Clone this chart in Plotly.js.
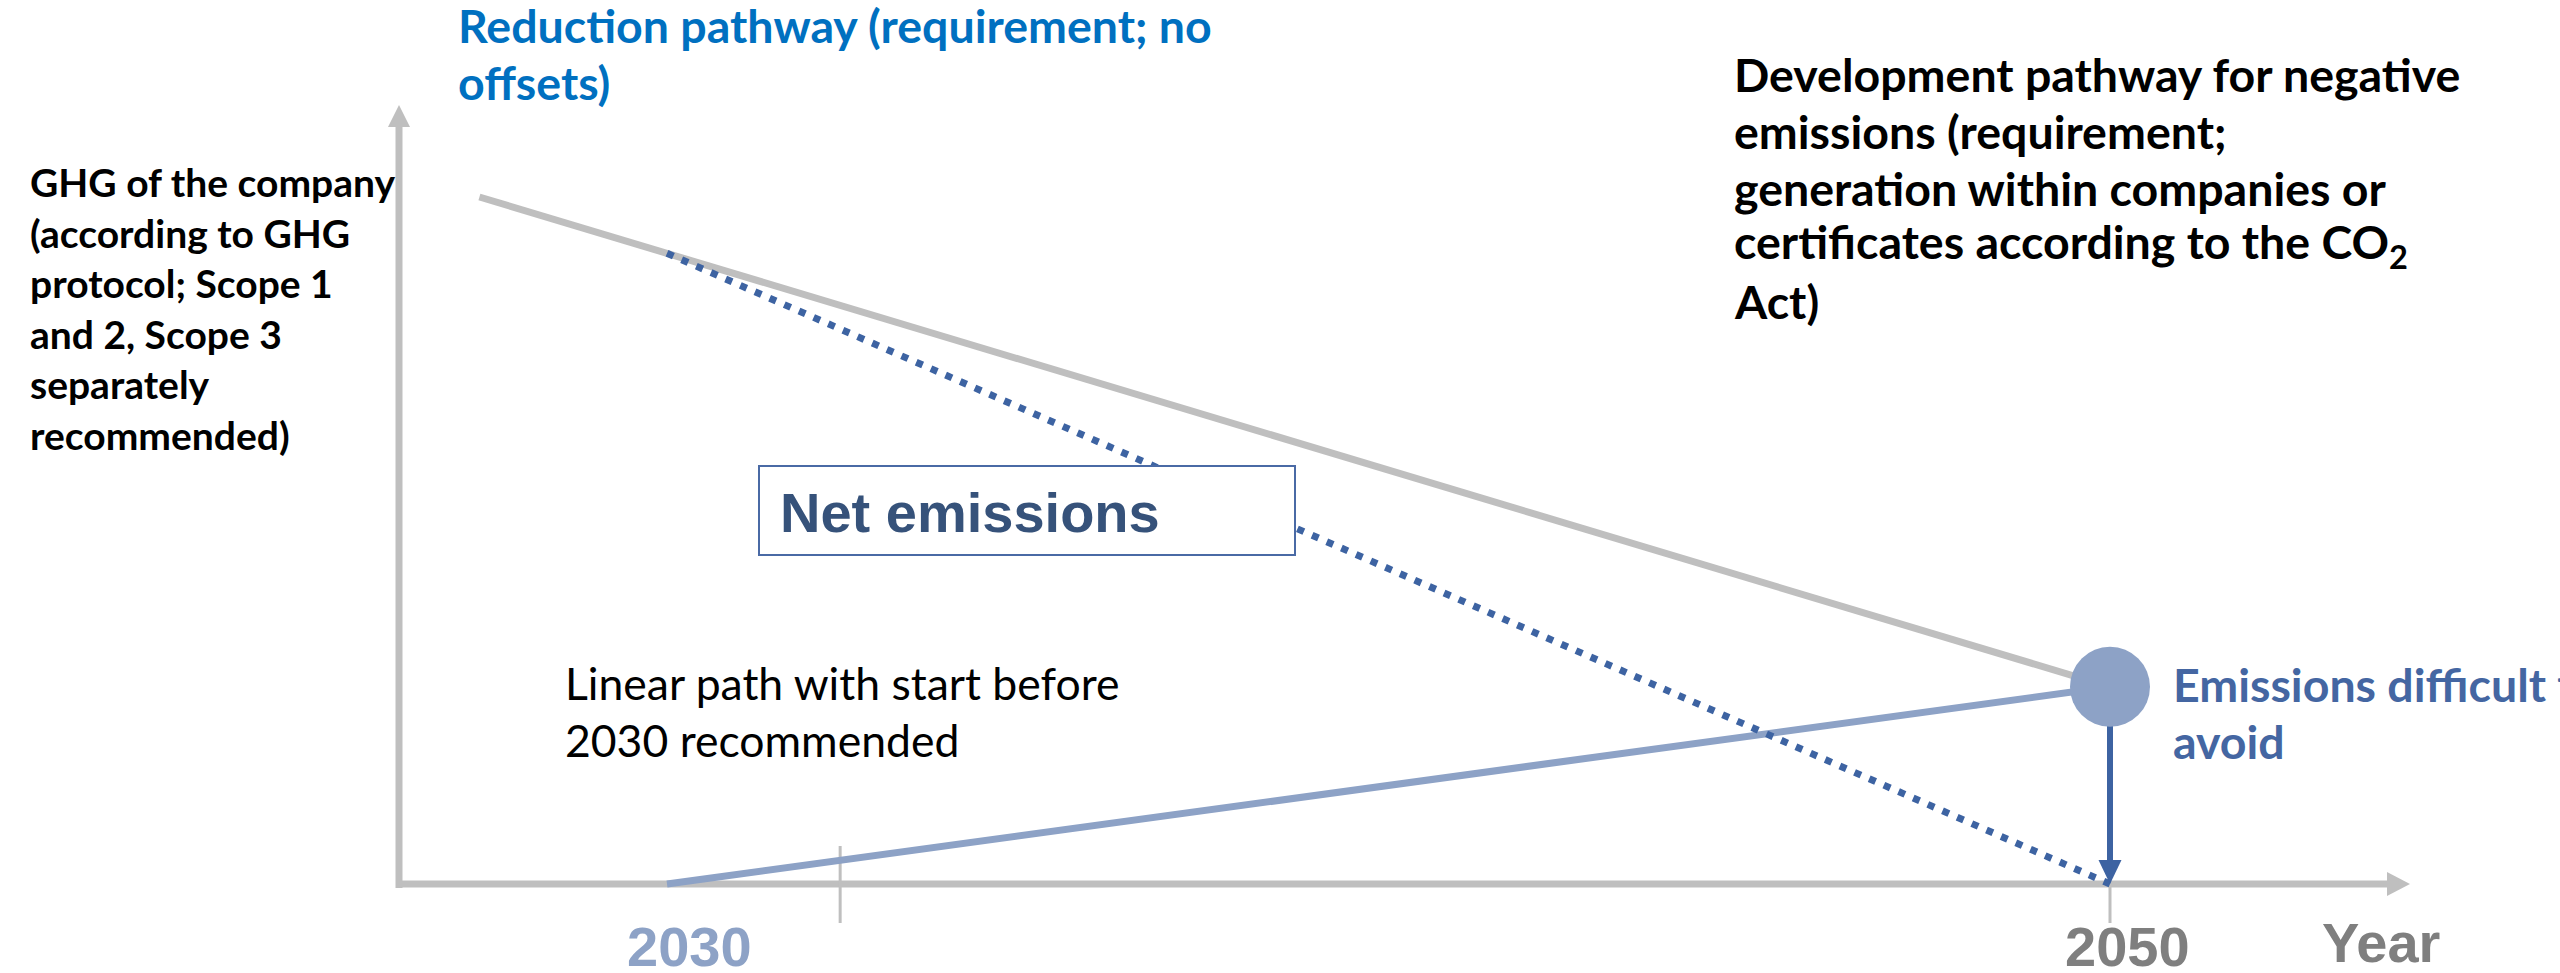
<!DOCTYPE html>
<html>
<head>
<meta charset="utf-8">
<script src="https://cdn.plot.ly/plotly-3.0.1.min.js"></script>
<style>
html,body{margin:0;padding:0;background:#ffffff;overflow:hidden}
#chart{width:2560px;height:973px}
</style>
</head>
<body>
<div id="chart"></div>
<script>
// ---------------- data (schematic values, index: company GHG at path start = 100) ----------------
const reductionYears  = [2027.4, 2050];
const reductionValues = [100, 28.7];
const netYears        = [2030, 2050];
const netValues       = [91.8, 0];
const negativeYears   = [2030, 2050];
const negativeValues  = [0, 28.7];
const residualYears   = [2050];
const residualValues  = [28.7];
const tickYears       = [2032.4, 2050];
const tickLabels      = ['2030', '2050'];
const tickLabelYears  = [2030, 2050];
const axisTitle       = 'Year';

const yLabelLines    = ['GHG of the company', '(according to GHG', 'protocol; Scope 1', 'and 2, Scope 3', 'separately', 'recommended)'];
const reductionLines = ['Reduction pathway (requirement; no', 'offsets)'];
const negativeLines  = ['Development pathway for negative', 'emissions (requirement;', 'generation within companies or', 'certificates according to the CO<sub>2</sub>', 'Act)'];
const linearLines    = ['Linear path with start before', '2030 recommended'];
const residualLines  = ['Emissions difficult to', 'avoid'];
const netLabel       = 'Net emissions';

// ---------------- frame (canvas pixels <-> axis units) ----------------
const W = 2560, H = 973;
const PX_YEAR = (2110 - 667) / 20;          // px per year
const X0 = 2030 - 667 / PX_YEAR;            // year at left edge
const PX_UNIT = (884 - 197) / 100;          // px per index unit
const Y_TOP = 884 / PX_UNIT;                // value at top edge
const xr = [X0, X0 + W / PX_YEAR];
const yr = [Y_TOP - H / PX_UNIT, Y_TOP];
const X = px => X0 + px / PX_YEAR;
const Y = py => Y_TOP - py / PX_UNIT;

const GRAY = '#bfbfbf', LIGHTBLUE = '#8da2c6', DARKBLUE = '#3d63a2';

// ---------------- traces ----------------
const traces = [
  { x: reductionYears, y: reductionValues, mode: 'lines', line: { color: GRAY, width: 7 }, hoverinfo: 'skip' },
  { x: negativeYears, y: negativeValues, mode: 'lines', line: { color: LIGHTBLUE, width: 7 }, hoverinfo: 'skip' },
  { x: netYears, y: netValues, mode: 'lines', line: { color: DARKBLUE, width: 7, dash: '7px,9px' }, hoverinfo: 'skip' },
  { x: [residualYears[0], residualYears[0]], y: [residualValues[0], Y(862)], mode: 'lines', line: { color: DARKBLUE, width: 6 }, hoverinfo: 'skip' },
  { x: residualYears, y: residualValues, mode: 'markers', marker: { color: LIGHTBLUE, size: 80, line: { width: 0 } }, hoverinfo: 'skip' }
];

// ---------------- shapes: axes, ticks, arrowheads ----------------
const axisX = 399, axisY = 884;
function tri(p) { return 'M' + p.map(q => X(q[0]) + ',' + Y(q[1])).join('L') + 'Z'; }
const shapes = [
  { type: 'line', layer: 'below', x0: X(axisX), x1: X(axisX), y0: Y(888), y1: Y(124), line: { color: GRAY, width: 7 } },
  { type: 'line', layer: 'below', x0: X(axisX - 3), x1: X(2390), y0: Y(axisY), y1: Y(axisY), line: { color: GRAY, width: 7 } },
  { type: 'path', layer: 'below', path: tri([[axisX - 11, 127], [axisX + 11, 127], [axisX, 105]]), fillcolor: GRAY, line: { width: 0 } },
  { type: 'path', layer: 'below', path: tri([[2387, 872], [2387, 896], [2410, 884]]), fillcolor: GRAY, line: { width: 0 } },
  { type: 'line', layer: 'below', x0: tickYears[0], x1: tickYears[0], y0: Y(846), y1: Y(923), line: { color: GRAY, width: 3 } },
  { type: 'line', layer: 'below', x0: tickYears[1], x1: tickYears[1], y0: 0, y1: Y(923), line: { color: GRAY, width: 3 } },
  { type: 'path', layer: 'above', path: tri([[2110 - 11.5, 860], [2110 + 11.5, 860], [2110, 884]]), fillcolor: DARKBLUE, line: { width: 0 } },
  { type: 'rect', layer: 'above', x0: X(759), x1: X(1295), y0: Y(466), y1: Y(555), fillcolor: '#ffffff', line: { color: '#4a6aa5', width: 2 } }
];

// ---------------- text ----------------
const LATO = 'Lato, "Open Sans", sans-serif';
const ARIAL = '"Liberation Sans", Arial, sans-serif';
const annotations = [];
function addLines(lines, o) {
  lines.forEach((t, i) => {
    const base = o.baseline + i * o.spacing;
    annotations.push({
      xref: 'paper', yref: 'paper', x: o.left / W, y: 1 - (base - o.k * o.size) / H,
      xanchor: o.anchor || 'left', yanchor: 'middle', showarrow: false, align: 'left',
      text: t, borderpad: 0,
      font: { family: o.family, size: o.size, color: o.color, weight: o.weight }
    });
  });
}
addLines(yLabelLines,    { left: 29,   baseline: 197, spacing: 50.6, size: 39,   family: LATO, color: '#000000', weight: 700, k: 0.387 });
addLines(reductionLines, { left: 457,  baseline: 43,  spacing: 57,   size: 46.5, family: LATO, color: '#0070c0', weight: 700, k: 0.387 });
addLines(negativeLines,  { left: 1733, baseline: 92,  spacing: 56.8, size: 46.5, family: LATO, color: '#000000', weight: 700, k: 0.387 });
addLines(linearLines,    { left: 564,  baseline: 700, spacing: 57,   size: 44.5, family: LATO, color: '#000000', weight: 400, k: 0.387 });
addLines(residualLines,  { left: 2172, baseline: 702, spacing: 56.5, size: 46.5, family: LATO, color: '#4466a2', weight: 700, k: 0.387 });
addLines([netLabel],     { left: 779,  baseline: 532, spacing: 0,    size: 56,   family: ARIAL, color: '#36527a', weight: 700, k: 0.3465 });

// tick labels & axis title
const tickColors = [LIGHTBLUE, '#7f7f7f'];
const tickShift = [22, 17];
tickLabels.forEach((t, i) => {
  annotations.push({
    xref: 'x', yref: 'paper', x: tickLabelYears[i], y: 1 - (966 - 0.3465 * 56) / H,
    xanchor: 'center', yanchor: 'middle', xshift: tickShift[i], showarrow: false, text: t, borderpad: 0,
    font: { family: ARIAL, size: 56, color: tickColors[i], weight: 700 }
  });
});
annotations.push({
  xref: 'paper', yref: 'paper', x: 2381 / W, y: 1 - (962 - 0.3465 * 56) / H,
  xanchor: 'center', yanchor: 'middle', showarrow: false, text: axisTitle, borderpad: 0,
  font: { family: ARIAL, size: 56, color: '#7f7f7f', weight: 700 }
});

const layout = {
  width: W, height: H, autosize: false,
  margin: { l: 0, r: 0, t: 0, b: 0, pad: 0 },
  paper_bgcolor: '#ffffff', plot_bgcolor: '#ffffff',
  showlegend: false,
  xaxis: { range: xr, visible: false, fixedrange: true },
  yaxis: { range: yr, visible: false, fixedrange: true },
  shapes: shapes,
  annotations: annotations
};

Plotly.newPlot('chart', traces, layout, { displayModeBar: false, staticPlot: true });
</script>
</body>
</html>
